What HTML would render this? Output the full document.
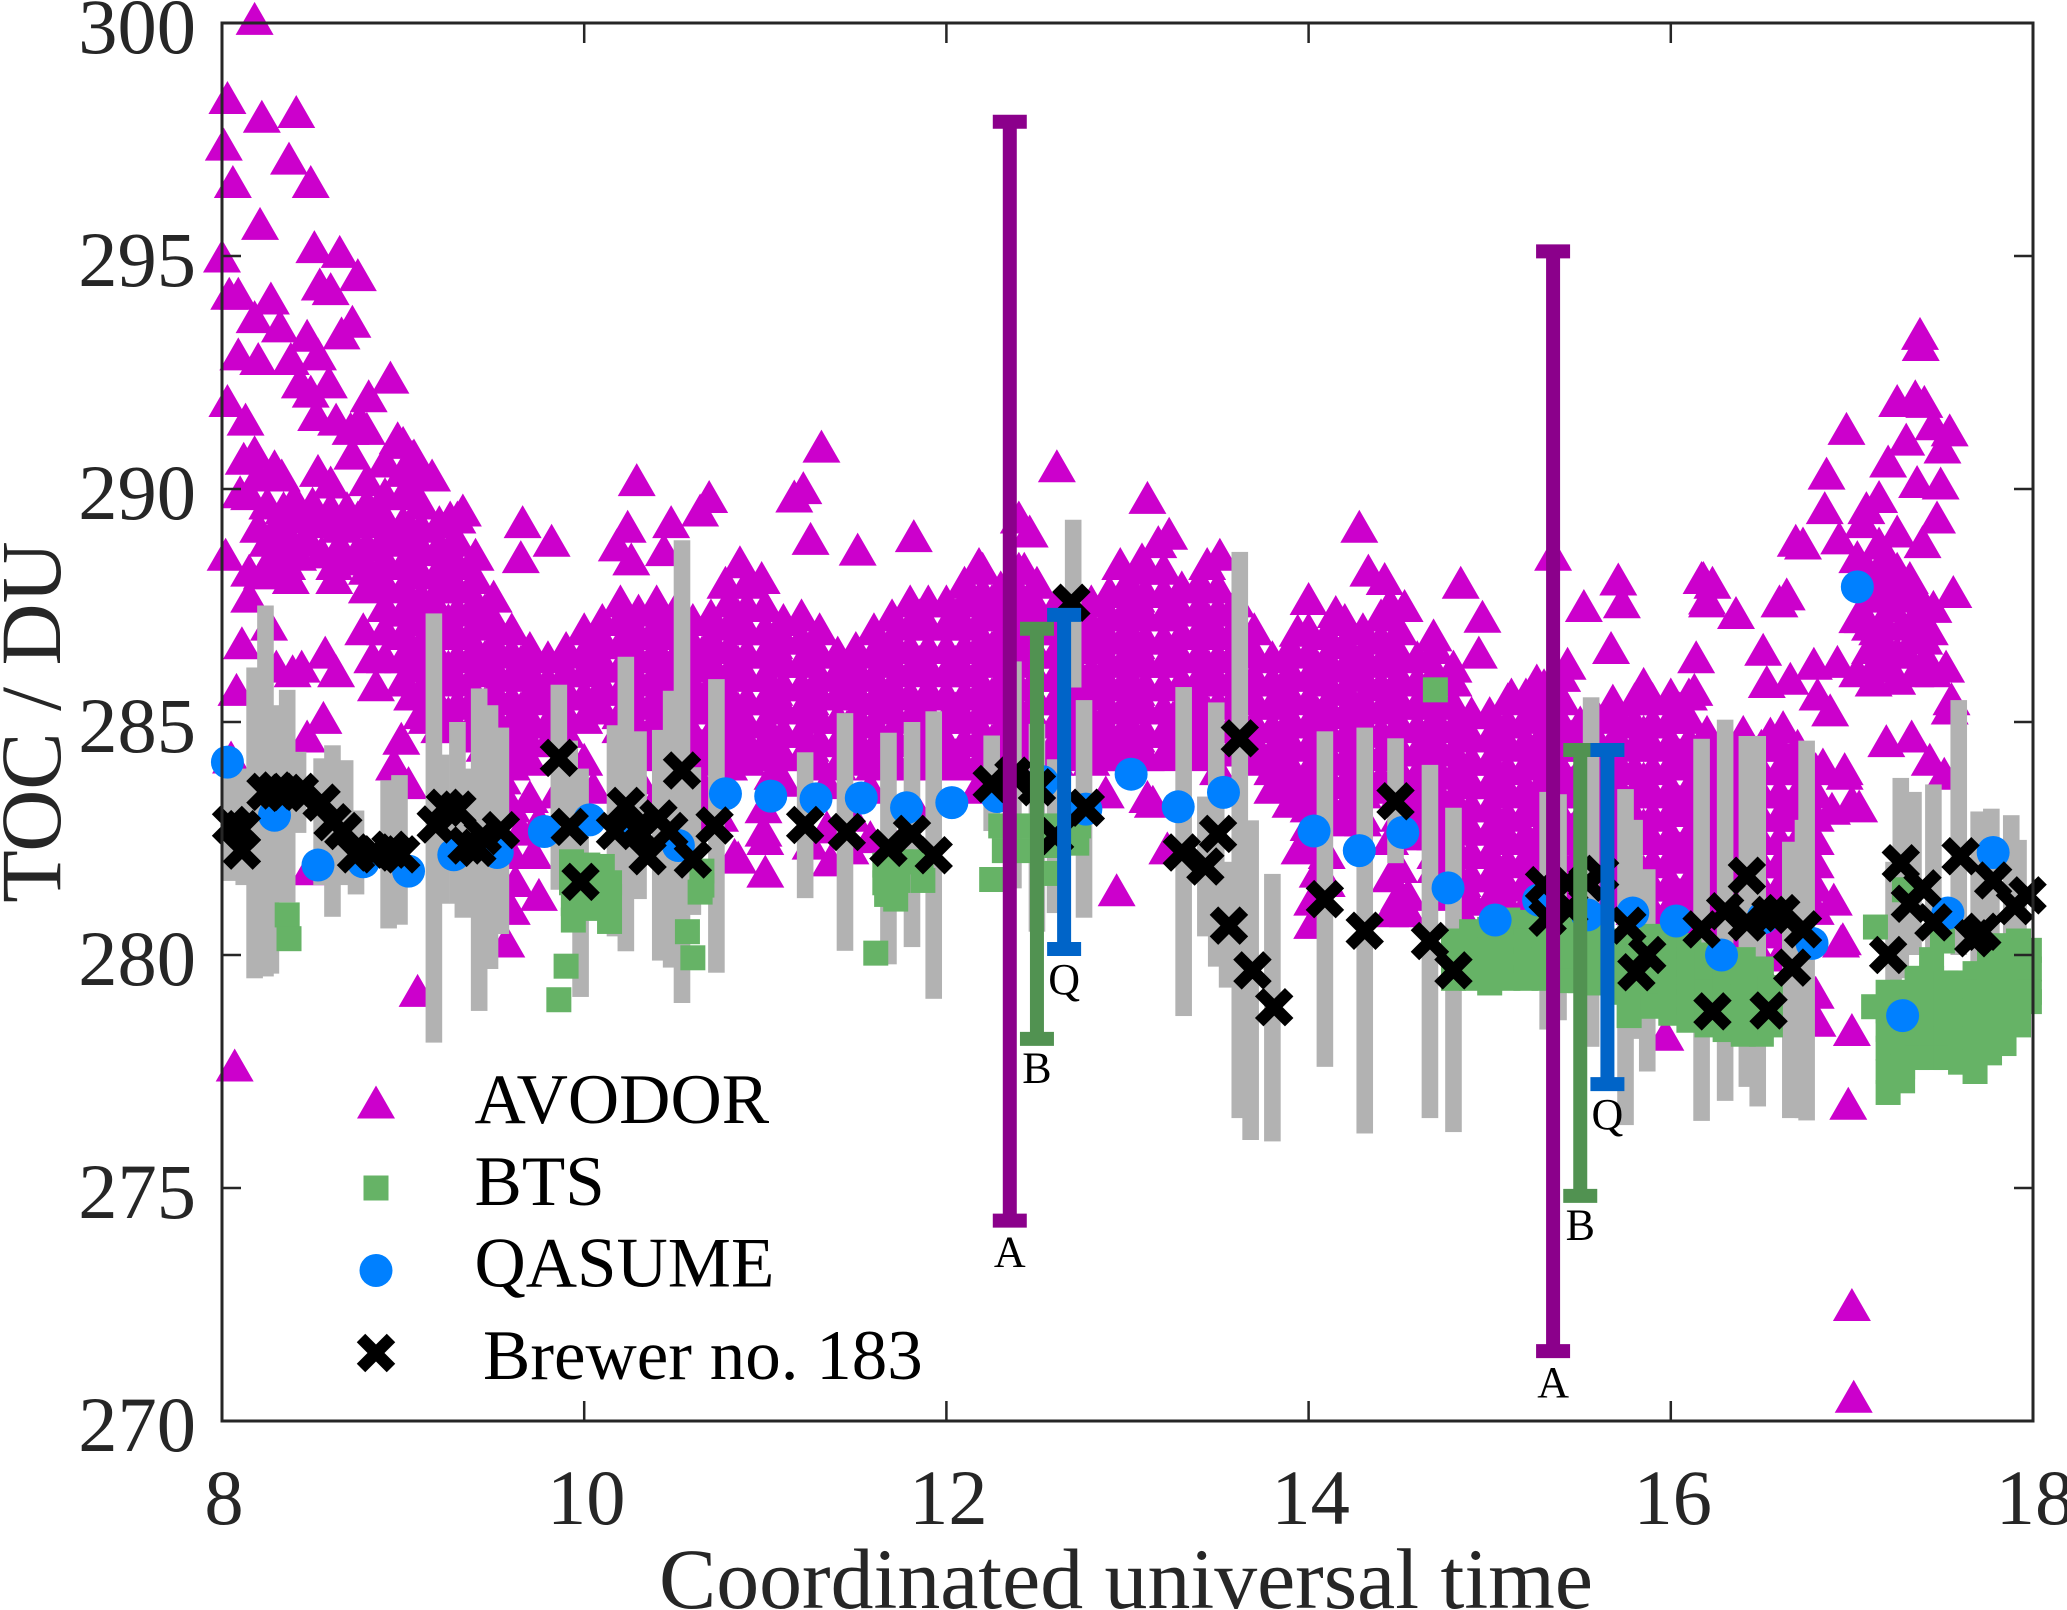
<!DOCTYPE html>
<html lang="en">
<head>
<meta charset="utf-8">
<title>TOC chart</title>
<style>
html,body{margin:0;padding:0;background:#fff;}
svg{display:block;}
text{font-family:"Liberation Serif",serif;}
</style>
</head>
<body>
<svg id="chart" xmlns="http://www.w3.org/2000/svg" width="2067" height="1610" viewBox="0 0 2067 1610"></svg>
<script>
const xTicks=[8,10,12,14,16,18];
const yTicks=[270,275,280,285,290,295,300];
const avodorScatter=[[8.18,300.1],[8.03,298.4],[8.22,298],[8.41,298.1],[8.01,297.4],[8.37,297.1],[8.06,296.6],[8.49,296.6],[8.21,295.7],[8.51,295.2],[8.65,295.1],[8,295],[8.54,294.4],[8.75,294.6],[8.6,294.3],[8.04,294.2],[8.09,294.2],[8.27,294.1],[8.18,293.7],[8.32,293.5],[8.72,293.6],[8.66,293.35],[8.47,293.3],[8.09,292.9],[8.2,292.8],[8.38,292.8],[8.53,292.9],[8.43,292.3],[8.49,292.1],[8.59,292.3],[8.93,292.4],[8.81,292],[8.03,291.9],[8.13,291.5],[8.52,291.6],[8.63,291.5],[8.71,291.3],[8.76,291.5],[8.8,291.3],[8.97,291.1],[9.05,290.7],[9.16,290.3],
[8.18,290.8],[8.12,290.66],[8.29,290.5],[8.33,290.3],[8.53,290.4],[8.6,290.15],[8.72,290.77],[9.06,290.73],[8.1,289.94],[8.34,289.6],[8.69,289.6],[9.26,289.4],[9.33,289.55],[9.66,289.3],[9.82,288.9],[10.29,290.2],[10.24,289.2],[10.48,289.3],[10.18,288.8],[9.65,288.55],[10.26,288.5],[10.44,288.7],[10.64,289.55],
[8.02,288.6],[8.15,288.26],[8.15,287.7],[8.11,286.7],[8.26,287.1],[8.08,285.7],[8.3,286.2],[8.44,286.2],[8.39,286.1],[8.57,286.5],[8.63,286.1],[8.78,287],[8.83,286.4],[8.85,285.8],[8.55,288.65],[8.62,288.4],[8.62,288.1],[8.36,288.4],[8.28,288.6],[8.34,289.2],[8.56,285.1],[8.47,284.7],[8.99,284.65],[8.95,284.1],[9.03,283.7],[9.13,285.1],[8.05,284.25],
[8.2,290.3],[8.15,289.9],[8.25,289.7],[8.2,289.2],[8.3,289.2],[8.4,289.8],[8.45,289.4],[8.5,289.7],[8.55,289.3],[8.6,289.6],[8.65,289.2],[8.75,289.4],[8.25,288.9],[8.35,288.9],[8.45,288.9],[8.65,288.8],[8.72,288.5],[8.42,288.6],[8.3,288.3],[8.22,288.2],[8.38,288.1],[8.48,288.9],[8.75,288.7],
[9.55,283.8],[9.6,283.2],[9.65,282.7],[9.6,282.2],[9.7,283.4],[9.75,282.9],[9.72,282.2],[9.62,281.6],[9.6,281],[9.75,281.3],[9.57,280.3],[9.85,283.5],[9.9,283.2],[9.95,283.9],[10,284.2],[10.05,283.6],[10,281.1],[10.3,283.8],[10.4,283.4],[10.45,283.6],[10.65,283.7],[10.7,283.4],[10.62,283],[10.75,283],[9.08,279.24],[8.07,277.64],[8.48,281.85],[10.83,282.16],[11,282.5],[11,281.8],[11.04,283.9],[10.85,282.1],[10.99,282.68],[10.99,283.18],[11.1,283.75],[11.36,282.04],[11.34,282.75],[11.34,283.7],[11.58,282.54],[11.58,283.6],[11.82,283.25],[12.07,284.1],[12.17,283.6],[12.88,283.5],[13.11,283.4],[13.22,282.3],[12.94,281.4],[13.14,283.3],[11.25,282.4],[11.47,282.3],[11.7,282.5],[11.48,283],
[11.31,290.92],[11.16,289.85],[11.21,290.03],[11.25,288.94],[11.51,288.71],[11.82,289],[10.69,289.84],[10.78,288],[10.86,288.44],[10.98,288.1],[12.18,288.4],[12.4,289.4],[12.46,289.1],[12.43,288.3],[12.61,290.5],[13.11,289.82],[13.23,289.05],[13.17,288.87],[13.08,288.5],[12.96,288.4],[14.28,289.2],[13.51,288.6],[13.44,288.4],[14.33,288.26],[14.42,288.08],[14.53,287.5],[14.45,287.55],[14.84,288],[14.96,287.27],[14.94,286.5],[14.69,286.87],[14.8,286.2],[14,287.65],[14.15,287.37],[13.94,286.97],[15.35,288.6],[15.71,288.07],[15.52,287.5],[15.73,287.58],[15.67,286.6],[16.18,288.1],[16.2,287.6],[15.43,286.26],[15.26,285.9],[15.12,285.6],[15.68,285.47],[15.85,285.83],
[14,282.4],[14.05,281.8],[14.02,281.2],[14.02,280.7],[13.95,282.3],[14.1,282.2],[14.1,281.6],[14.45,282.5],[14.5,281.9],[14.5,281.3],[14.45,281.7],[14.55,281.3],[14.45,280.95],[14.55,280.95],[14.7,281.9],[14.75,281.3],[14.85,280.9],
[17.376,293.34],[17.38,293.1],[17.25,291.9],[17.35,292],[17.4,291.88],[16.97,291.3],[17.45,291.4],[17.54,291.27],[17.3,291.07],[17.5,290.9],[17.2,290.6],[16.86,290.34],[17.36,290.16],[17.49,290.13],[17.15,289.84],[16.85,289.6],[17.47,289.4],[17.08,289.6],[17.25,289.1],[17.39,288.87],[16.93,288.95],[16.69,288.9],[16.73,288.84],[17.06,289.3],[17.03,288.55],[17.15,288.84],[17.19,288.6],[16.17,288.1],[16.23,288],[16.2,287.66],[16.36,287.35],[16.64,287.75],[16.6,287.6],[17.37,287.73],[17.56,287.8],[17.45,287.48],[17.17,287.84],[17.06,287.26],[17.03,287.26],[17.17,287.2],[17.28,287.1],[17.43,287],[17.14,287],[16.14,286.4],[16.51,286.56],[17.17,286.76],[17.41,286.4],[17.52,286.2],[16.92,286.3],[16.79,286.26],[17.03,286.1],[16.66,285.94],[16.53,285.87],[17.25,285.94],[17.2,286.2],[16.13,285.7],[17.55,285.5],[17.54,285.3],[16.81,285.6],[16.88,285.26],[17.19,284.6],[17.33,284.7],[17.43,284.2],[17.51,283.9],[16.96,284],[16.84,284.1],[16.62,284.9],[16.55,284.76],[17,283.3],[17.04,283.2],[16.89,283.15],[16.76,283.2],[16.96,283.9],[16.9,281.2],[16.94,280.3],[16.95,280.35],[16.74,279.25],[16.81,278.6],[17,278.4],[15.97,278.3],[16.98,276.82],[17,272.5],[17.01,270.53],[16.8,279.2],
[17.1,288.2],[17.1,287.7],[17.2,288],[17.25,288.3],[17.3,287.7],[17.15,288.2],[17.1,286.6],[17.25,286.5],[17.35,286.9],[17.3,286.5],[17.12,286.2],[17.22,287.5],[17.1,287.1],[17.35,287.3],[17.4,286.8],[17.32,288.1],[17.12,285.9],[17.35,286.1],[17.45,286.1]];
const avodorColumns=[
[8.8,290.2,289.7,289.3,288.8,288.3,287.9],
[8.9,290.6,289.9,289.4,289,288.5,288,287.5,287,286.4],
[9,291,290.4,289.9,289.3,288.9,288.4,287.9,287.4,286.9,286.4,285.9],
[9.1,290.3,289.7,289.2,288.7,288.2,287.7,287.2,286.7,286.2,285.7,285.2],
[9.2,289.3,288.8,288.3,287.9,287.4,286.9,286.4,285.9,285.4,284.9],
[9.3,289.4,288.9,288.4,287.9,287.4,286.9,286.4,285.9,285.4,284.9],
[9.4,288.6,288.1,287.6,287.1,286.6,286.1,285.6,285.1,284.7],
[9.5,287.7,287.2,286.7,286.2,285.7,285.2,284.7,284.3],
[9.6,287,286.5,286,285.5,285,284.6,284.1],
[9.7,286.6,286.1,285.6,285.1,284.6,284.2],
[9.8,286.4,285.9,285.5,285,284.6],
[9.9,286.6,286.1,285.7,285.2,284.8],
[10,287,286.5,286.1,285.6,285.1],
[10.1,287.2,286.8,286.3,285.8,285.3],
[10.2,287.6,287.2,286.7,286.2,285.7,285.2,284.9],
[10.3,287.4,286.9,286.4,285.9,285.4,284.9,284.5],
[10.4,287.6,287.1,286.6,286.1,285.6,285.1,284.6,284.3],
[10.5,287.4,286.9,286.4,285.9,285.4,284.9,284.4],
[10.6,287.2,286.7,286.2,285.8,285.3,284.8,284.3,284],
[10.7,287.3,286.8,286.3,285.8,285.3,284.8,284.2],
[10.8,287.6,287.1,286.6,286.1,285.6,285.1,284.6,284.1],
[10.9,288,287.5,287,286.5,286,285.5,285,284.6,284.2],
[11,287.5,287,286.5,286,285.5,285,284.6,284.3],
[11.1,287.2,286.8,286.3,285.8,285.3,284.8,284.3],
[11.2,287.3,286.8,286.3,285.8,285.3,284.8,284.3],
[11.3,287,286.5,286,285.6,285.1,284.6,284.1],
[11.4,286.5,286.1,285.6,285.1,284.6,284.1],
[11.5,286.6,286.2,285.7,285.2,284.7,284.2],
[11.6,287,286.5,286,285.5,285,284.5,284.1],
[11.7,287.3,286.8,286.3,285.8,285.3,284.8,284.3],
[11.8,287.6,287.1,286.6,286.1,285.6,285.1,284.6,284.1],
[11.9,287.6,287.1,286.6,286.2,285.7,285.2,284.7,284.2],
[12,287.6,287.1,286.6,286.1,285.6,285.1,284.6,284.1],
[12.1,288,287.6,287.1,286.6,286.1,285.6,285.1,284.6,284.1],
[12.2,288.3,287.8,287.3,286.8,286.3,285.8,285.3,284.8,284.3],
[12.3,287.9,287.4,286.9,286.4,285.9,285.4,284.9,284.4,284],
[12.4,288.3,287.8,287.3,286.8,286.3,285.8,285.3,284.8,284.3],
[12.5,288,287.5,287,286.5,286,285.5,285,284.5,284.1],
[12.6,287.5,287,286.5,286,285.5,285,284.6,284.2],
[12.7,287.3,286.8,286.3,285.8,285.3,284.8,284.3],
[12.8,287.6,287.1,286.6,286.1,285.6,285.1,284.6,284.2],
[12.9,287.8,287.3,286.8,286.3,285.8,285.3,284.8,284.3],
[13,288,287.5,287,286.5,286,285.5,285,284.6,284.3],
[13.1,288.3,287.8,287.3,286.8,286.3,285.8,285.3,284.8,284.3],
[13.2,288.3,287.8,287.3,286.8,286.3,285.8,285.3,284.8,284.3],
[13.3,287.9,287.4,286.9,286.4,285.9,285.4,284.9,284.4],
[13.4,288,287.5,287,286.5,286,285.5,285,284.6,284.3],
[13.5,287.9,287.4,286.9,286.4,285.9,285.4,284.9,284.4,284],
[13.6,287.6,287.1,286.6,286.1,285.6,285.1,284.6],
[13.7,287,286.5,286,285.5,285,284.6,284.2],
[13.8,286.4,285.9,285.4,284.9,284.4,284,283.6],
[13.9,286.6,286.1,285.6,285.1,284.6,284.1,283.7,283.3],
[14,287,286.5,286,285.5,285,284.5,284,283.6,283.2,282.8],
[14.1,286.9,286.4,285.9,285.4,284.9,284.4,283.9,283.4,283],
[14.2,287.2,286.7,286.2,285.7,285.2,284.7,284.2,283.7,283.2,282.9],
[14.3,287,286.5,286,285.5,285,284.5,284,283.5,283,282.9],
[14.4,287.3,286.8,286.3,285.8,285.3,284.8,284.3,283.8,283.6],
[14.5,287,286.5,286,285.5,285,284.5,284,283.5,283],
[14.6,286.4,285.9,285.4,284.9,284.4,283.9,283.4,282.9,282.6],
[14.7,286.6,286.1,285.6,285.1,284.6,284.1,283.6,283.1,282.6,282.2],
[14.8,285.9,285.4,284.9,284.4,283.9,283.4,282.9,282.4,281.9,281.5],
[14.9,285.2,284.7,284.2,283.7,283.2,282.7,282.2,281.7,281.2],
[15,285.2,284.7,284.2,283.7,283.2,282.7,282.2,281.7,281.2],
[15.1,285.5,285,284.5,284,283.5,283,282.5,282,281.5,281.1],
[15.2,285.6,285.1,284.6,284.1,283.6,283.1,282.6,282.1,281.6,281.1],
[15.3,285.8,285.3,284.8,284.3,283.8,283.3,282.8,282.3,281.8,281.3],
[15.4,286,285.5,285,284.5,284,283.5,283,282.5,282,281.6],
[15.5,285,284.5,284,283.5,283,282.5,282,281.5],
[15.6,285.1,284.6,284.1,283.6,283.1,282.6,282.1,281.6,281.3],
[15.7,285.2,284.7,284.2,283.7,283.2,282.7,282.2,281.7,281.3],
[15.8,285.5,285,284.5,284,283.5,283,282.5,282,281.5,281],
[15.9,285.5,285,284.5,284,283.5,283,282.5,282,281.5,281,280.8],
[16,285.6,285.1,284.6,284.1,283.6,283.1,282.6,282.1,281.6,281.1,280.6,280.1,279.5],
[16.1,285.6,285.1,284.6,284.1,283.6,283.1,282.6,282.1,281.6,281.1,280.6,280.1,279.8],
[16.2,284.8,284.3,283.8,283.3,282.8,282.3,281.8,281.3,280.8,280.3,279.8],
[16.3,284.6,284.1,283.6,283.1,282.6,282.1,281.6,281.1,280.6,280.1,279.5],
[16.4,284.8,284.3,283.8,283.3,282.8,282.3,281.8,281.3,280.8,280.3,279.7],
[16.5,284.5,284,283.5,283,282.5,282,281.5,281,280.5,280,279.7],
[16.6,284.5,284,283.5,283,282.5,282,281.5,281,280.5,280],
[16.7,284.5,284,283.5,283,282.5,282,281.5,281,280.5],
[16.8,284,283.5,283,282.5,282,281.5,281]
];
const avodorFillColumns=[
[9.05,290,289.1,288.2,287.6,286.6,285.6],
[9.25,288.7,288.1,287.2,286.2,285.2],
[9.45,287.4,286.4,285.4,284.5],
[9.65,286.3,285.3,284.4],
[9.85,285.7,284.8],
[10.05,286.3,285.4],
[10.25,287,286,285.1],
[10.45,287.2,286.2,285.2,284.5],
[10.65,286.5,285.5,284.5],
[10.85,287.3,286.3,285.3,284.4],
[11.05,286.7,285.7,284.5],
[11.25,286.6,285.5,284.5],
[11.45,285.9,284.9],
[11.65,286.6,285.6,284.6],
[11.85,287.3,286.3,285.3,284.4],
[12.05,287.3,286.3,285.3,284.3],
[12.25,287.6,286.6,285.6,284.6],
[12.45,287.5,286.5,285.2,284.5],
[12.65,286.7,285.7,284.5],
[12.85,287,286,285,284.4],
[13.05,287.7,286.7,285.7,284.7],
[13.25,287.5,286.5,285.1,284.5],
[13.45,287.2,286.2,285.2,284.4],
[13.65,286.8,285.8,284.8],
[13.85,285.7,284.7,283.8],
[14.05,286.2,285.2,284.2,283.3],
[14.25,286.4,285.4,284.4,283.4],
[14.45,286.5,285.5,284.5,283.7],
[14.65,285.7,284.7,283.7,282.8],
[14.85,284.7,283.7,282.7,281.6],
[15.05,284.9,283.9,282.9,281.8],
[15.25,285.3,284.3,283.3,282.3,281.4],
[15.45,284.7,283.7,282.7,281.9],
[15.65,284.4,283.4,282.4,281.5],
[15.85,284.8,283.8,282.8,281.8],
[16.05,285.3,284.3,283.3,282.3,281.3,280.4],
[16.25,284.4,283.4,282.4,281.4,280.4],
[16.45,284.1,283.1,282.1,281.1,280.1],
[16.65,284.2,283.2,282.2,281.2]
];
const brewerBars=[[8.05,281.59,283.97],[8.12,281.5,284],[8.18,279.5,286.17],[8.24,279.54,287.5],[8.27,279.6,285.36],[8.36,281.13,285.69],[8.42,282.62,284.36],[8.55,281.5,284.22],[8.61,280.82,284.5],[8.68,281.5,284.18],[8.74,281.3,283.1],[8.92,280.57,283.75],[8.98,280.65,283.86],[9.17,278.12,287.33],[9.21,281.1,284.3],[9.3,281.1,285],[9.33,280.8,284],[9.42,278.8,285.72],[9.48,279.7,285.36],[9.54,280.45,284.88],[9.86,281.4,285.8],[9.92,280.9,284.6],[9.98,279.1,284],[10.17,280.4,284.93],[10.23,280.08,286.4],[10.3,281.2,284.8],[10.42,279.88,284.83],[10.48,279.73,285.67],[10.54,278.97,288.9],[10.6,280.86,284.03],[10.73,279.62,285.92],[11.22,281.22,284.35],[11.44,280.09,285.19],[11.68,279.8,284.77],[11.81,280.17,285],[11.93,279.06,285.23],[12.25,282.66,284.71],[12.37,281.43,286.3],[12.5,280.5,284.96],[12.6,280.9,284.2],[12.7,285.74,289.34],[12.76,280.8,285.47],[13.31,278.69,285.75],[13.43,280.4,283.4],[13.49,279.75,285.42],[13.55,279.3,282],[13.62,276.5,288.65],[13.68,276.03,282.89],[13.8,276,281.74],[14.09,277.6,284.8],[14.31,276.17,284.88],[14.48,281.97,284.65],[14.67,276.5,284.08],[14.8,276.2,283.16],[15.32,278.4,283.5],[15.38,278.6,283.45],[15.56,278.03,285.53],[15.75,276.35,283.56],[15.8,278.2,282.9],[15.87,277.5,281.84],[16.17,276.44,284.64],[16.3,276.87,285.05],[16.42,277.17,284.7],[16.48,276.75,284.7],[16.66,276.5,282.43],[16.73,276.5,282.9],[16.75,276.45,284.6],[17.23,279.2,282],[17.27,279.5,283.8],[17.34,280,283.5],[17.45,280,283.66],[17.59,280,285.47],[17.7,279.8,283.08],[17.77,280,283.14],[17.88,280,283],[17.92,280,282.47]];
const btsPoints=[[8.36,280.86],[8.37,280.35],[9.9,279.76],[9.86,279.04],[10.57,280.5],[10.6,279.94],[9.93,282],[10.02,281.93],[10.1,281.9],[9.93,281.55],[10.03,281.5],[10.14,281.55],[9.94,281.1],[10.03,281],[9.94,280.75],[10.14,280.72],[10.14,281.25],[10.65,281.8],[10.65,281.5],[10.64,281.35],[11.66,281.93],[11.66,281.55],[11.67,281.3],[11.72,281.2],[11.75,282],[11.86,282],[11.87,281.6],[11.73,281.6],[11.61,280.04],[12.3,282.77],[12.32,282.24],[12.42,282.77],[12.42,282.24],[12.57,282.77],[12.57,282.35],[12.72,282.4],[12.73,282.77],[12.25,281.62],[12.57,281.75],[14.7,285.69],
[14.8,280.3],[14.8,279.9],[14.8,279.5],[14.9,280.5],[14.9,280.1],[14.9,279.7],[14.9,279.5],[15,280.55],[15,280.1],[15,279.7],[15,279.4],[15.1,280.75],[15.1,280.3],[15.1,279.9],[15.1,279.5],[15.2,280.7],[15.2,280.3],[15.2,279.9],[15.2,279.5],[15.3,280.7],[15.3,280.3],[15.3,279.9],[15.3,279.5],[15.4,280.6],[15.4,280.2],[15.4,279.8],[15.4,279.45],[15.5,280.6],[15.5,280.2],[15.5,279.8],[15.5,279.45],[15.6,280.55],[15.6,280.1],[15.6,279.7],[15.6,279.4],[15.7,280.3],[15.7,279.9],[15.7,279.5],[15.7,279.2],[15.8,280.3],[15.8,279.9],[15.8,279.5],[15.8,279.1],[15.77,278.7],[15.9,280.4],[15.9,280],[15.9,279.6],[15.9,279.2],[15.9,278.9],[16,280.3],[16,279.9],[16,279.5],[16,279.1],[16,278.75],[16.1,280.2],[16.1,279.8],[16.1,279.4],[16.1,279],[16.1,278.6],[16.2,280],[16.2,279.6],[16.2,279.2],[16.2,278.8],[16.2,278.5],[16.3,279.9],[16.3,279.5],[16.3,279.1],[16.3,278.7],[16.3,278.4],[16.4,279.9],[16.4,279.5],[16.4,279.1],[16.4,278.7],[16.4,278.3],[16.5,279.7],[16.5,279.3],[16.5,278.9],[16.5,278.5],[16.5,278.3],[16.55,279.3],[16.55,278.9],[16.55,278.5],
[17.13,280.6],[17.29,281.4],[17.5,280.3],[17.12,278.89],[17.2,279.2],[17.2,278.8],[17.2,278.4],[17.2,278],[17.2,277.5],[17.2,277.05],[17.28,279.2],[17.28,278.8],[17.28,278.4],[17.28,278],[17.28,277.6],[17.28,277.3],[17.36,279.5],[17.36,279],[17.36,278.6],[17.36,278.2],[17.36,277.8],[17.44,279.9],[17.44,279.5],[17.44,279],[17.44,278.6],[17.44,278.2],[17.44,277.8],[17.52,279.4],[17.52,279],[17.52,278.6],[17.52,278.2],[17.52,277.8],[17.6,279.4],[17.6,279],[17.6,278.6],[17.6,278.2],[17.6,277.7],[17.68,279.6],[17.68,279.2],[17.68,278.8],[17.68,278.4],[17.68,278],[17.68,277.5],[17.76,279.9],[17.76,279.5],[17.76,279.1],[17.76,278.7],[17.76,278.3],[17.76,277.9],[17.84,280.2],[17.84,279.8],[17.84,279.4],[17.84,279],[17.84,278.6],[17.84,278.1],[17.92,280.3],[17.92,279.9],[17.92,279.5],[17.92,279.1],[17.92,278.6],[17.92,278.5],[17.98,280.1],[17.98,279.7],[17.98,279.2],[17.98,279]];
const qasumePoints=[[8.03,284.14],[8.29,283],[8.53,281.93],[8.78,282],[9.03,281.8],[9.28,282.15],[9.52,282.2],[9.78,282.65],[10.03,282.9],[10.28,282.66],[10.52,282.35],[10.78,283.46],[11.03,283.41],[11.28,283.35],[11.53,283.37],[11.78,283.16],[12.03,283.27],[12.28,283.4],[12.53,283.72],[12.77,283.13],[13.02,283.88],[13.28,283.18],[13.53,283.49],[14.03,282.66],[14.28,282.24],[14.52,282.63],[14.77,281.44],[15.03,280.75],[15.27,281.18],[15.54,280.86],[15.79,280.9],[16.03,280.73],[16.28,280],[16.51,280.8],[16.78,280.25],[17.03,287.9],[17.28,278.7],[17.53,280.9],[17.78,282.2]];
const brewerPoints=[[8.05,282.79],[8.11,282.7],[8.11,282.24],[8.24,283.5],[8.3,283.53],[8.35,283.48],[8.43,283.5],[8.55,283.27],[8.61,282.85],[8.67,282.66],[8.74,282.16],[8.84,282.2],[8.93,282.26],[8.99,282.16],[9.18,282.8],[9.23,283.16],[9.3,283.12],[9.35,282.35],[9.41,282.3],[9.44,282.55],[9.54,282.68],[9.86,284.23],[9.92,282.75],[9.98,281.57],[10.17,282.66],[10.23,283.2],[10.29,282.7],[10.35,282.12],[10.41,282.93],[10.47,282.66],[10.54,283.96],[10.6,282.05],[10.72,282.78],[11.22,282.79],[11.45,282.64],[11.68,282.3],[11.81,282.6],[11.93,282.14],[12.25,283.67],[12.37,283.85],[12.5,283.6],[12.6,282.55],[12.77,283.16],[12.69,287.56],[13.3,282.2],[13.5,282.6],[13.43,281.9],[13.56,280.63],[13.62,284.65],[13.69,279.67],[13.81,278.88],[14.09,281.2],[14.31,280.52],[14.48,283.3],[14.67,280.3],[14.8,279.67],[15.3,281.5],[15.32,280.8],[15.43,281.55],[15.44,281],[15.54,281.55],[15.61,281.74],[15.76,280.63],[15.87,280],[15.81,279.63],[16.17,280.55],[16.23,278.79],[16.3,280.94],[16.42,281.7],[16.42,280.7],[16.55,280.86],[16.61,280.9],[16.73,280.55],[16.67,279.73],[16.54,278.81],[17.27,281.97],[17.2,280],[17.39,281.43],[17.32,281.1],[17.45,280.7],[17.6,282.12],[17.67,280.36],[17.72,280.5],[17.78,281.6],[17.9,281.05],[17.97,281.28]];
const rangeTimes=[12.35,15.35,12.5,15.5,12.65,15.65];
const rangeLows=[274.3,271.5,278.2,274.83,280.13,277.23];
const rangeHighs=[297.88,295.1,287,284.4,287.3,284.4];
const rangeLabels=["A","A","B","B","Q","Q"];
const rangeColors=["#8B008B","#8B008B","#519251","#519251","#0064C8","#0064C8"];
const legendLabels=["AVODOR","BTS","QASUME","Brewer no. 183"];

const NS="http://www.w3.org/2000/svg";
const svg=document.getElementById("chart");
function xPos(t){return 222+(t-8)*181.1;}
function yPos(v){return 1421-(v-270)*46.6;}
function mk(tag,attrs,parent){
  const el=document.createElementNS(NS,tag);
  for(const k in attrs)el.setAttribute(k,attrs[k]);
  (parent||svg).appendChild(el);
  return el;
}
function drawTriangle(x,y,parent){
  return mk("polygon",{points:(x)+","+(y-16.5)+" "+(x-19)+","+(y+16.5)+" "+(x+19)+","+(y+16.5),fill:"#CC00CC"},parent);
}
function drawCross(x,y,parent,s){
  const g=mk("path",{d:"M"+(x-s)+" "+(y-s)+"L"+(x+s)+" "+(y+s)+"M"+(x-s)+" "+(y+s)+"L"+(x+s)+" "+(y-s),stroke:"#000",fill:"none","stroke-width":12},parent);
  return g;
}
const gAvodor=mk("g",{});


avodorColumns.concat(avodorFillColumns).forEach(function(col){
  for(let i=1;i<col.length;i++){
    const p=drawTriangle(xPos(col[0]),yPos(col[i]),gAvodor);
    
    
  }
});
avodorScatter.forEach(function(d){
  const p=drawTriangle(xPos(d[0]),yPos(d[1]),gAvodor);
  
  
});
const gBars=mk("g",{});


brewerBars.forEach(function(d){
  const r=mk("rect",{x:xPos(d[0])-8.3,y:yPos(d[2]),width:16.6,height:yPos(d[1])-yPos(d[2]),fill:"#B2B2B2"},gBars);
  
  
});
const gBts=mk("g",{});


btsPoints.forEach(function(d){
  const r=mk("rect",{x:xPos(d[0])-12.5,y:yPos(d[1])-12.5,width:25,height:25,fill:"#66B366"},gBts);
  
  
});
const gQ=mk("g",{});


qasumePoints.forEach(function(d){
  const c=mk("circle",{cx:xPos(d[0]),cy:yPos(d[1]),r:16.5,fill:"#0080FF"},gQ);
  
  
});
const gB=mk("g",{});


brewerPoints.forEach(function(d){
  const c=drawCross(xPos(d[0]),yPos(d[1]),gB,15);
  
  
});
const gR=mk("g",{});


rangeTimes.forEach(function(t,i){
  const x=xPos(t),y0=yPos(rangeHighs[i]),y1=yPos(rangeLows[i]),col=rangeColors[i];
  const p=mk("path",{d:"M"+x+" "+y0+"L"+x+" "+y1+"M"+(x-17)+" "+y0+"L"+(x+17)+" "+y0+"M"+(x-17)+" "+y1+"L"+(x+17)+" "+y1,stroke:col,"stroke-width":14,fill:"none"},gR);
  
  
  const lab=mk("text",{x:x,y:y1+(rangeLabels[i]==="B"?43.5:(rangeLabels[i]==="Q"?45:46)),"text-anchor":"middle","font-size":44,fill:"#000"},gR);
  lab.textContent=rangeLabels[i];
  
  
});
const gAxes=mk("g",{});


const frame=mk("rect",{x:xPos(8),y:yPos(300),width:xPos(18)-xPos(8),height:yPos(270)-yPos(300),fill:"none",stroke:"#262626","stroke-width":3},gAxes);


xTicks.forEach(function(t){
  const x=xPos(t);
  const tk=mk("path",{d:"M"+x+" "+yPos(270)+"v-20M"+x+" "+yPos(300)+"v20",stroke:"#262626","stroke-width":2.5,fill:"none"},gAxes);
  
  
  const lb=mk("text",{x:x+2,y:1524,"text-anchor":"middle","font-size":78.5,fill:"#262626"},gAxes);
  lb.textContent=String(t);
  
  
});
yTicks.forEach(function(v){
  const y=yPos(v);
  const tk=mk("path",{d:"M"+xPos(8)+" "+y+"h19M"+xPos(18)+" "+y+"h-19",stroke:"#262626","stroke-width":2.5,fill:"none"},gAxes);
  
  
  const lb=mk("text",{x:196,y:y+30,"text-anchor":"end","font-size":78.5,fill:"#262626"},gAxes);
  lb.textContent=String(v);
  
  
});
const xTitle=mk("text",{x:1126,y:1608,"text-anchor":"middle","font-size":85.8,fill:"#262626"},gAxes);
xTitle.textContent="Coordinated universal time";


const yTitle=mk("text",{x:0,y:0,"text-anchor":"middle","font-size":86,fill:"#262626",transform:"translate(60,722) rotate(-90)"},gAxes);
yTitle.textContent="TOC / DU";


const gL=mk("g",{});


const legT=drawTriangle(376,1102,gL);


const legS=mk("rect",{x:363.5,y:1175.5,width:25,height:25,fill:"#66B366"},gL);


const legC=mk("circle",{cx:376,cy:1270.5,r:16.5,fill:"#0080FF"},gL);


const legX=drawCross(376,1353,gL,15);


const legendX=[474.5,474.5,474.5,483];
const legendY=[1123,1205,1286.5,1379];
legendLabels.forEach(function(s,i){
  const t=mk("text",{x:legendX[i],y:legendY[i],"font-size":71,fill:"#000"},gL);
  t.textContent=s;
  
  
});
</script>
</body>
</html>
